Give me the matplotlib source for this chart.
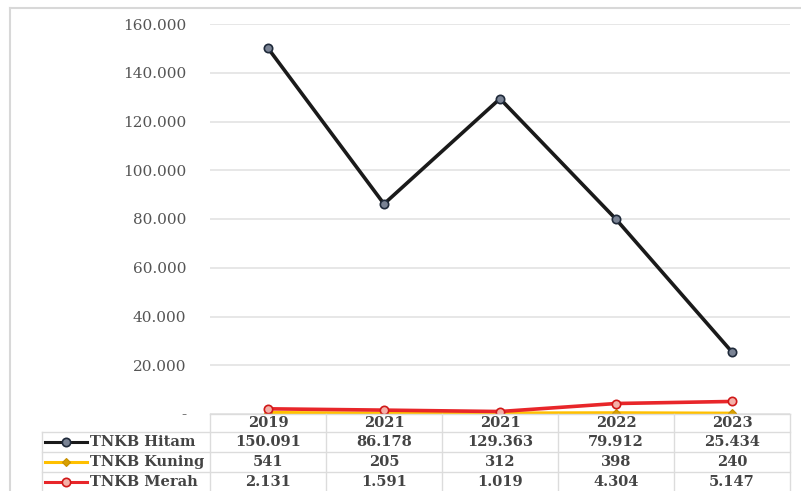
import matplotlib
matplotlib.use("Agg")
import matplotlib.pyplot as plt
from matplotlib.lines import Line2D

years = ["2019", "2021", "2021", "2022", "2023"]
hitam = [150091, 86178, 129363, 79912, 25434]
kuning = [541, 205, 312, 398, 240]
merah = [2131, 1591, 1019, 4304, 5147]
series_names = ["TNKB Hitam", "TNKB Kuning", "TNKB Merah"]
yticks = [0, 20000, 40000, 60000, 80000, 100000, 120000, 140000, 160000]

W, H = 801, 491
fig = plt.figure(figsize=(W / 100, H / 100), dpi=100)

def fx(px):
    return px / W

def fy(py):
    return 1 - py / H

left, right, top, bottom = 210, 790, 24, 414
ax = fig.add_axes([fx(left), fy(bottom), (right - left) / W, (bottom - top) / H])

x = list(range(len(years)))
styles = [
    dict(color="#1a1a1a", lw=2.6, marker="o", ms=6, mfc="#7a8394", mec="#1f2a3a", mew=1.2, zorder=4),
    dict(color="#FFC000", lw=2.6, marker="D", ms=4, mfc="#d9a000", mec="#c89000", mew=0.8, zorder=3),
    dict(color="#E8262A", lw=2.6, marker="o", ms=6, mfc="#f4b0a8", mec="#d01818", mew=1.2, zorder=3),
]
for vals, st in zip([hitam, kuning, merah], styles):
    ax.plot(x, vals, **st)

ax.set_xlim(-0.5, len(years) - 0.5)
ax.set_ylim(0, 160000)
ax.set_yticks(yticks)
ax.set_yticklabels(["-" if v == 0 else f"{v:,}".replace(",", ".") for v in yticks],
                   fontsize=11, color="#555555", family="DejaVu Serif")
ax.tick_params(axis="y", length=0, pad=17)
ax.set_xticks([])
ax.grid(axis="y", color="#e3e3e3", lw=1.2)
ax.set_axisbelow(True)
for s in ax.spines.values():
    s.set_visible(False)

# outer border
fig.add_artist(Line2D([fx(10), fx(10)], [fy(8), fy(491)], color="#d8d8d8", lw=1.5, transform=fig.transFigure))
fig.add_artist(Line2D([fx(10), fx(800)], [fy(8), fy(8)], color="#d8d8d8", lw=1.5, transform=fig.transFigure))

# data table
col_w = (right - left) / len(years)
grid_c = "#dcdcdc"
fig.add_artist(Line2D([fx(left), fx(right)], [fy(bottom), fy(bottom)], color=grid_c, lw=1, transform=fig.transFigure))
for i in range(len(years) + 1):
    xx = left + i * col_w
    fig.add_artist(Line2D([fx(xx), fx(xx)], [fy(bottom), fy(491)], color=grid_c, lw=1, transform=fig.transFigure))
fig.add_artist(Line2D([fx(42), fx(42)], [fy(432), fy(491)], color=grid_c, lw=1, transform=fig.transFigure))
for yy in [432, 452, 472]:
    fig.add_artist(Line2D([fx(42), fx(right)], [fy(yy), fy(yy)], color=grid_c, lw=1, transform=fig.transFigure))

tfont = dict(family="DejaVu Serif", fontsize=10.5, color="#444444", fontweight="bold")
for i, yr in enumerate(years):
    fig.text(fx(left + (i + 0.5) * col_w), fy(423), yr, ha="center", va="center", **tfont)

row_y = [442, 462, 482]
for r, (name, vals, st) in enumerate(zip(series_names, [hitam, kuning, merah], styles)):
    yy = fy(row_y[r])
    fig.add_artist(Line2D([fx(45), fx(87)], [yy, yy], color=st["color"], lw=2.2, transform=fig.transFigure))
    fig.add_artist(Line2D([fx(66)], [yy], marker=st["marker"], ms=st["ms"], mfc=st["mfc"], mec=st["mec"],
                          mew=st["mew"], transform=fig.transFigure))
    fig.text(fx(90), yy, name, ha="left", va="center", **tfont)
    for i, v in enumerate(vals):
        fig.text(fx(left + (i + 0.5) * col_w), yy, f"{v:,}".replace(",", "."), ha="center", va="center", **tfont)

fig.savefig("out.png", dpi=100)
